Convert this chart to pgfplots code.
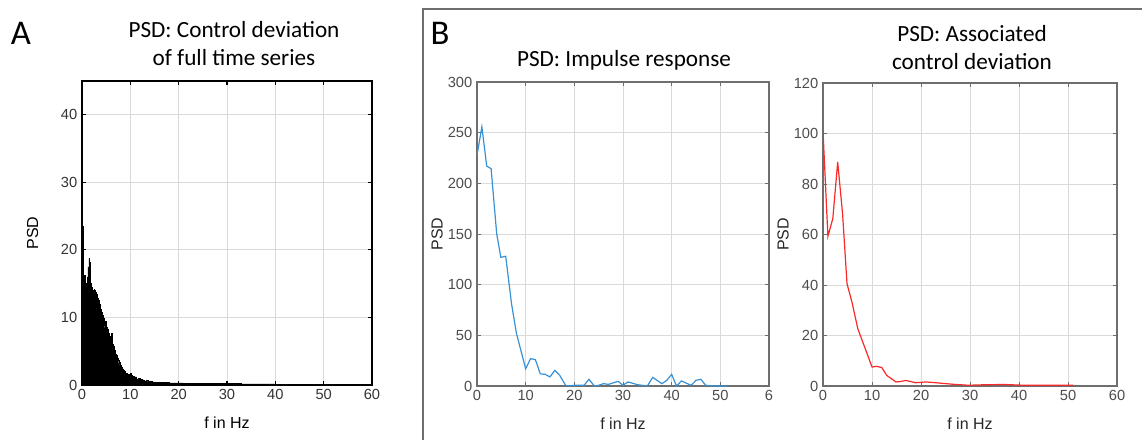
\documentclass[border=0pt]{standalone}
\usepackage{fontspec}
\setmainfont{Liberation Sans}
\newfontfamily\calibri{Carlito}
\usepackage{pgfplots}
\pgfplotsset{compat=1.18}
\definecolor{mblue}{RGB}{55,145,212}
\definecolor{mred}{RGB}{250,40,40}
\definecolor{gridc}{RGB}{218,218,218}
\definecolor{framec}{RGB}{110,110,110}

\pgfplotsset{
  matlab/.style={
    scale only axis,
    xmin=0, xmax=60,
    xtick={0,10,...,60},
    grid=major,
    major grid style={gridc, line width=0.6pt},
    tick align=inside,
    major tick length=3pt,
    tick label style={font=\fontsize{11}{13}\selectfont},
    label style={font=\fontsize{12}{14}\selectfont},
    /pgf/number format/assume math mode=true,
    xlabel={f in Hz},
    ylabel={PSD},
    xlabel style={at={(axis description cs:0.5,-0.125)}, anchor=center},
  },
}

\begin{document}
\begin{tikzpicture}
\path[use as bounding box] (0,0) rectangle (856.5pt,330pt);

% panel A
\begin{axis}[matlab,
  at={(61.5pt,41.25pt)}, anchor=south west,
  width=217.5pt, height=228pt,
  ymin=0, ymax=45, ytick={0,10,...,40},
  axis line style={black, line width=1.1pt},
  tick style={black, line width=0.9pt},
  tick label style={text=black!80},
  label style={text=black},
  ylabel style={at={(axis description cs:-0.17,0.5)}, anchor=center},
]
\addplot[const plot, fill=black, draw=black, line width=0.3pt] coordinates {
(0.00,44.5) (0.05,41) (0.10,23.5) (0.15,20) (0.2,14) (0.3,13.5) (0.4,15.8) (0.5,16.2)
(0.6,12.5) (0.7,14) (0.8,13) (0.9,15) (1.0,14.8) (1.1,16) (1.2,17.5) (1.3,15)
(1.4,18.7) (1.5,18.2) (1.6,16.5) (1.7,13.5) (1.8,15) (1.9,14.8) (2.0,14.5) (2.1,12.7)
(2.2,14) (2.3,13) (2.4,12) (2.5,14.2) (2.6,14) (2.7,13) (2.8,13.8) (2.9,12.5)
(3.0,13.5) (3.1,13.2) (3.2,12.9) (3.3,11) (3.4,12.6) (3.5,12.3) (3.6,12) (3.7,11.5)
(3.8,10.5) (3.9,11.2) (4.0,10.8) (4.1,9.5) (4.2,10.3) (4.3,9.6) (4.4,9.9) (4.5,8.8)
(4.6,9.3) (4.7,8.5) (4.8,9.1) (4.9,9.4) (5.0,8.2) (5.1,8.6) (5.2,7.6) (5.3,8.2)
(5.4,7.9) (5.5,7.1) (5.6,7.6) (5.7,6.5) (5.8,7.2) (5.9,6.4) (6.0,6.6) (6.1,7.6)
(6.2,7.3) (6.3,5.8) (6.4,6.0) (6.5,5.4) (6.6,5.7) (6.7,4.9) (6.8,5.1) (6.9,4.4)
(7.0,4.6) (7.1,4.2) (7.2,4.4) (7.3,3.8) (7.4,4.0) (7.5,3.6) (7.6,3.2) (7.7,3.4)
(7.8,3.0) (7.9,3.1) (8.0,2.8) (8.1,2.9) (8.2,2.5) (8.3,2.6) (8.4,2.3) (8.5,2.4)
(8.6,2.1) (8.7,2.2) (8.8,1.9) (8.9,2.0) (9.0,1.8) (9.2,1.7) (9.4,1.5) (9.6,1.6)
(9.8,1.3) (10.0,1.7) (10.2,1.4) (10.4,1.2) (10.6,1.3) (10.8,1.0) (11.0,1.2) (11.3,0.9)
(11.6,1.0) (12.0,0.8) (12.4,0.75) (12.8,0.6) (13.2,0.65) (13.6,0.5) (14.0,0.55) (14.5,0.45)
(15.0,0.4) (15.5,0.42) (16,0.35) (17,0.35) (18,0.3) (19,0.32) (20,0.3) (21,0.25)
(22,0.25) (24,0.22) (26,0.2) (28,0.22) (30,0.2) (33,0.18) (36,0.16) (38,0.15)
(40,0.12) (45,0.1) (50,0.08) (50.5,0)
} \closedcycle;
\end{axis}

% panel B, left
\begin{axis}[matlab,
  at={(357.75pt,40.5pt)}, anchor=south west,
  width=219pt, height=228pt,
  ymin=0, ymax=300, ytick={0,50,...,300},
  axis line style={framec, line width=0.8pt},
  tick style={framec, line width=0.6pt},
  tick label style={text=black!70},
  label style={text=black!85},
  ylabel style={at={(axis description cs:-0.137,0.5)}, anchor=center},
  xticklabels={0,10,20,30,40,50,6},
]
\addplot[mblue, line width=0.9pt] coordinates {
(0,227.6) (1,255.6) (2,217) (2.9,214.5) (4.05,150) (4.9,127) (5.9,128) (7.1,81)
(8.1,52) (10,17) (11,27) (12,26) (13,12) (14,11.5) (15,9) (16,15.5) (17,10.5)
(18.2,0.7) (19,0) (20,0.7) (22,0.7) (23,6.6) (24.1,0) (25,0.7) (26,2.3) (27,1.6)
(29,4.6) (30,0.7) (31,4) (33,1.3) (35,0) (36.1,8.5) (38,2.3) (39,5.6) (40,11.5)
(41,0) (42,5) (44,0.7) (45,5.6) (46,6.6) (47,0.7) (49,0) (51.5,0)
};
\end{axis}

% panel B, right
\begin{axis}[matlab,
  at={(617.25pt,40.5pt)}, anchor=south west,
  width=220.5pt, height=227.25pt,
  ymin=0, ymax=120, ytick={0,20,...,120},
  axis line style={framec, line width=0.8pt},
  tick style={framec, line width=0.6pt},
  tick label style={text=black!70},
  label style={text=black!85},
  ylabel style={at={(axis description cs:-0.136,0.5)}, anchor=center},
]
\addplot[mred, line width=0.9pt] coordinates {
(0,101) (1,59.3) (2,66.3) (3,88.7) (4,68) (4.9,40.5) (5.9,33.3) (7.1,22.7)
(9,12.8) (10,7.5) (10.9,7.8) (12,7.3) (13,4.2) (14.9,1.6) (15.9,1.8) (16.9,2.2)
(18.9,1.3) (21,1.6) (23,1.3) (26.4,0.7) (29.7,0.3) (33,0.5) (37,0.6) (41,0.3)
(45,0.3) (51,0.3)
};
\end{axis}

% frame round B
\draw[framec, line width=0.9pt] (317.25pt,0pt) -- (317.25pt,323.25pt) -- (860pt,323.25pt);

% panel letters and titles
\node[font=\calibri\fontsize{26}{28}\selectfont] at (15.75pt,305.25pt) {A};
\node[font=\calibri\fontsize{26}{28}\selectfont] at (330pt,305.25pt) {B};
\node[font=\calibri\fontsize{17.4}{21}\selectfont, align=center] at (175.5pt,297pt)
  {PSD: Control deviation\\of full time series};
\node[font=\calibri\fontsize{17.4}{21}\selectfont] at (468pt,285pt) {PSD: Impulse response};
\node[font=\calibri\fontsize{17.4}{21}\selectfont, align=center] at (729pt,294pt)
  {PSD: Associated\\control deviation};
\end{tikzpicture}
\end{document}
